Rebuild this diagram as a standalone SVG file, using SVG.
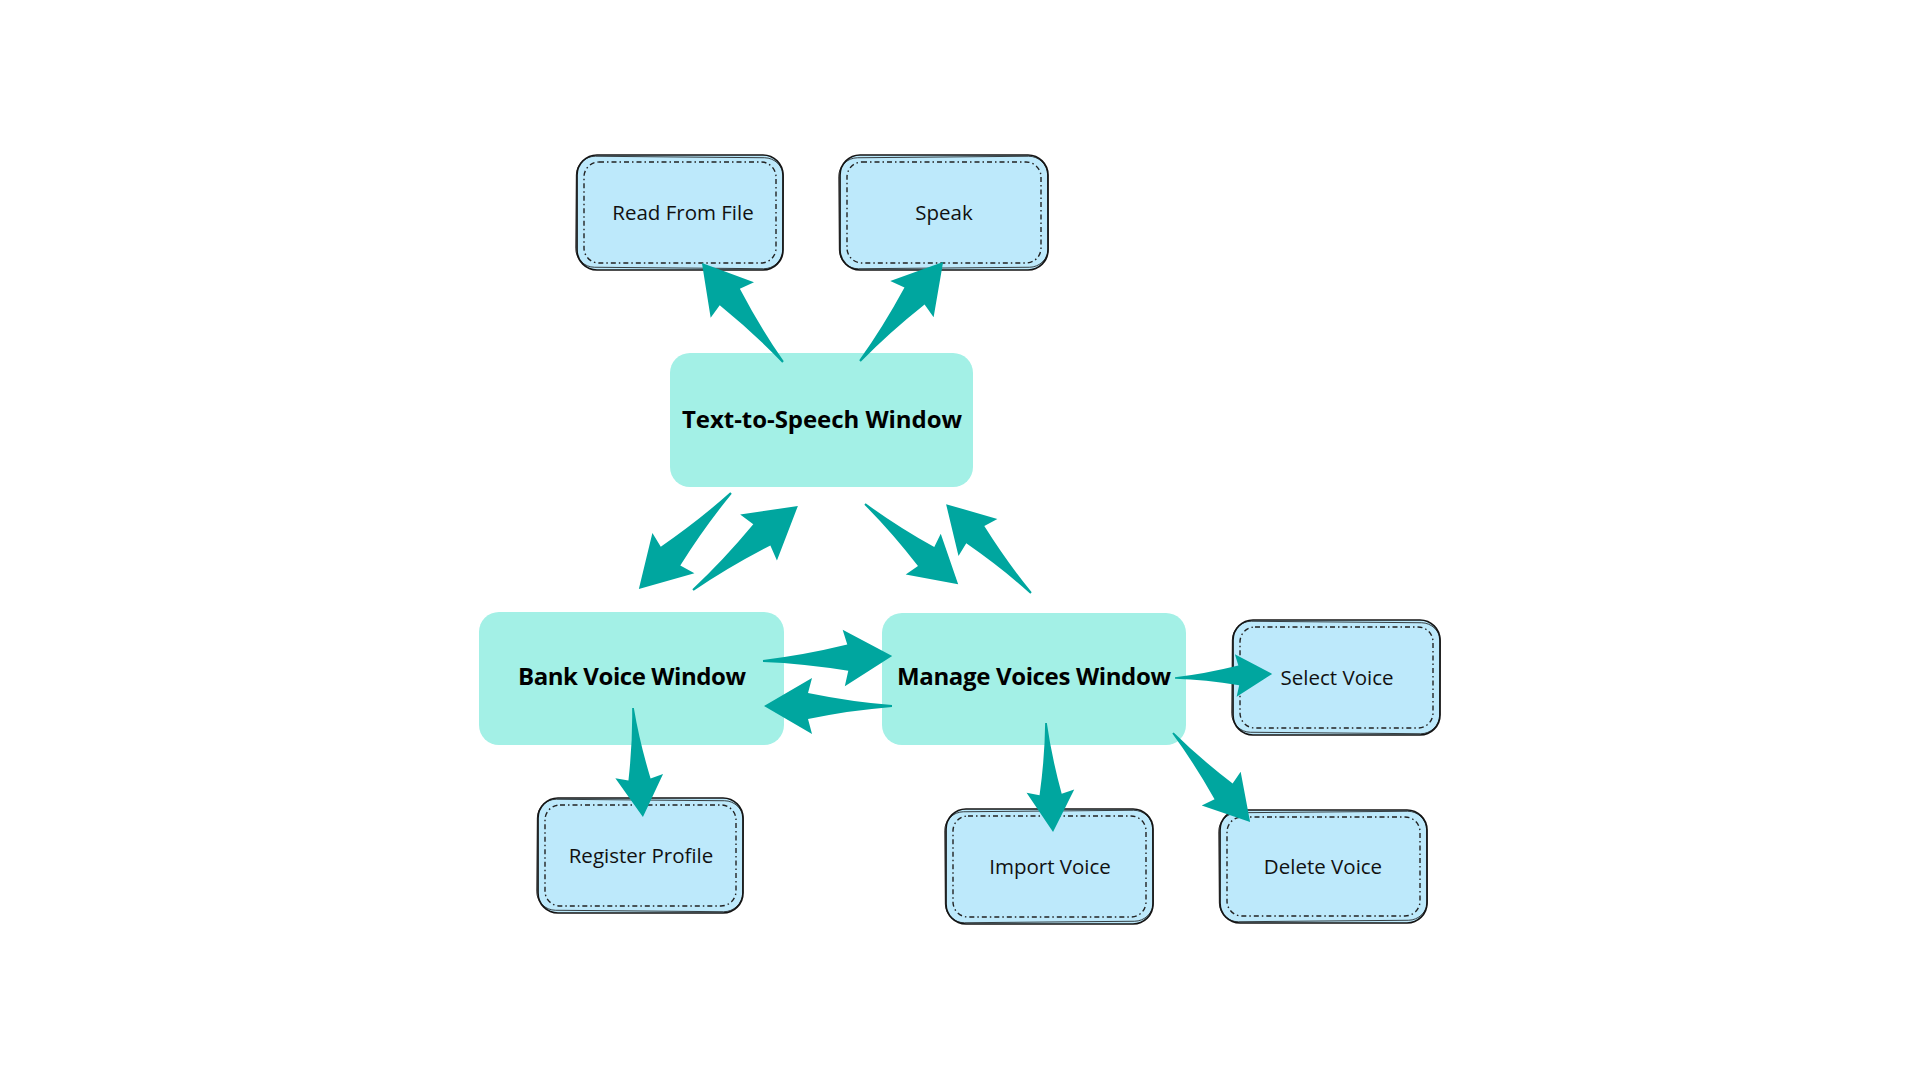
<svg xmlns="http://www.w3.org/2000/svg" width="1920" height="1080" viewBox="0 0 1920 1080">
<style>
.main{fill:#a3f0e6;}
.lb{fill:#bde9fb;stroke:#141414;stroke-width:1.7;}
.lb2{fill:none;stroke:#141414;stroke-width:0.8;}
.dash{fill:none;stroke:#222;stroke-width:1.4;stroke-dasharray:5 3 1.5 3;}
.bt{font-family:"Open Sans","Liberation Sans",sans-serif;font-weight:700;font-size:24px;fill:#000;text-anchor:middle;}
.rt{font-family:"Open Sans","Liberation Sans",sans-serif;font-weight:400;font-size:20.5px;fill:#111;text-anchor:middle;}
.arr{fill:#00a69f;}
</style>
<defs>
<path id="arrow" d="M0,-1 Q40,-4 84,-13 L80,-28 L128,0 L80,28 L84,13 Q40,4 0,1 Z"/>
</defs>
<rect width="1920" height="1080" fill="#ffffff"/>

<g id="node-tts">
<rect class="main" x="670" y="353" width="303" height="134" rx="20"/>
<text class="bt" x="822" y="428" textLength="280">Text-to-Speech Window</text>
</g>
<g id="node-bank">
<rect class="main" x="479" y="612" width="305" height="133" rx="20"/>
<text class="bt" x="632" y="685" textLength="228">Bank Voice Window</text>
</g>
<g id="node-manage">
<rect class="main" x="882" y="613" width="304" height="132" rx="20"/>
<text class="bt" x="1034" y="685" textLength="274">Manage Voices Window</text>
</g>

<g id="node-read">
<rect class="lb" x="577" y="155" width="206" height="115" rx="20"/>
<rect class="lb2" x="576" y="157" width="207" height="111" rx="19" transform="rotate(0.5 680 212)"/>
<rect class="dash" x="584" y="162" width="192" height="101" rx="15"/>
<text class="rt" x="683" y="220">Read From File</text>
</g>
<g id="node-speak">
<rect class="lb" x="840" y="155" width="208" height="115" rx="20"/>
<rect class="lb2" x="839" y="157" width="209" height="111" rx="19" transform="rotate(-0.5 944 212)"/>
<rect class="dash" x="847" y="162" width="194" height="101" rx="15"/>
<text class="rt" x="944" y="220">Speak</text>
</g>
<g id="node-select">
<rect class="lb" x="1233" y="620" width="207" height="115" rx="20"/>
<rect class="lb2" x="1232" y="622" width="208" height="111" rx="19" transform="rotate(0.5 1336 677)"/>
<rect class="dash" x="1240" y="627" width="193" height="101" rx="15"/>
<text class="rt" x="1337" y="685">Select Voice</text>
</g>
<g id="node-delete">
<rect class="lb" x="1220" y="810" width="207" height="113" rx="20"/>
<rect class="lb2" x="1219" y="812" width="208" height="109" rx="19" transform="rotate(-0.5 1323 866)"/>
<rect class="dash" x="1227" y="817" width="193" height="99" rx="15"/>
<text class="rt" x="1323" y="874">Delete Voice</text>
</g>
<g id="node-register">
<rect class="lb" x="538" y="798" width="205" height="115" rx="20"/>
<rect class="lb2" x="537" y="800" width="206" height="111" rx="19" transform="rotate(0.5 640 855)"/>
<rect class="dash" x="545" y="805" width="191" height="101" rx="15"/>
<text class="rt" x="641" y="863">Register Profile</text>
</g>
<g id="node-import">
<rect class="lb" x="946" y="809" width="207" height="115" rx="20"/>
<rect class="lb2" x="945" y="811" width="208" height="111" rx="19" transform="rotate(-0.5 1050 866)"/>
<rect class="dash" x="953" y="816" width="193" height="101" rx="15"/>
<text class="rt" x="1050" y="874">Import Voice</text>
</g>

<g id="connectors" class="arr">
<use href="#arrow" transform="translate(783,362) rotate(-129.3) scale(1.0)"/>
<use href="#arrow" transform="translate(860,361) rotate(-50) scale(1.01)"/>
<use href="#arrow" transform="translate(731,493) rotate(133.8) scale(1.04)"/>
<use href="#arrow" transform="translate(693,590) rotate(-38.7) scale(1.05)"/>
<use href="#arrow" transform="translate(865,504) rotate(40.7) scale(0.96)"/>
<use href="#arrow" transform="translate(1031,593) rotate(-133.7) scale(0.96)"/>
<use href="#arrow" transform="translate(763,661) rotate(-2.2) scale(1.01)"/>
<use href="#arrow" transform="translate(892,706) rotate(180) scale(1.0)"/>
<use href="#arrow" transform="translate(1175,678) rotate(-2.4) scale(0.76)"/>
<use href="#arrow" transform="translate(1173,733) rotate(49.1) scale(0.92)"/>
<use href="#arrow" transform="translate(633,708) rotate(84.8) scale(0.855)"/>
<use href="#arrow" transform="translate(1046,723) rotate(86.3) scale(0.853)"/>
</g>
</svg>
